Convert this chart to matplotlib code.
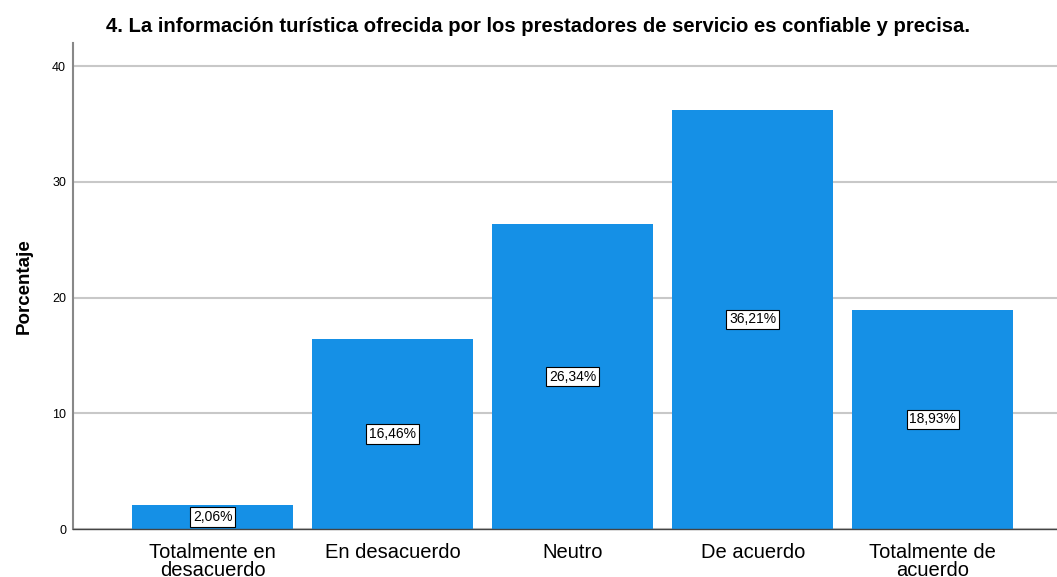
import matplotlib.pyplot as plt

plt.rcParams['font.family'] = ['Liberation Sans', 'DejaVu Sans']

categorias = ["Totalmente en\ndesacuerdo", "En desacuerdo", "Neutro",
              "De acuerdo", "Totalmente de\nacuerdo"]
porcentajes = [2.06, 16.46, 26.34, 36.21, 18.93]
marcas_y = [0, 10, 20, 30, 40]

fig = plt.figure(figsize=(10.57, 5.77), dpi=100)
ax = fig.add_axes([73 / 1057, 48 / 577, 1 - 73 / 1057, 486 / 577])

x = range(len(categorias))
ax.bar(x, porcentajes, width=0.894, color='#1590e6', zorder=2)

for xi, v in zip(x, porcentajes):
    ax.text(xi, v / 2, f"{v:.2f}%".replace('.', ','), ha='center', va='center',
            fontsize=10, zorder=3,
            bbox=dict(boxstyle='square,pad=0.2', fc='white', ec='black', lw=0.8))

ax.set_xlim(-0.775, 4.69)
ax.set_ylim(0, 42)
ax.set_yticks(marcas_y)
ax.set_yticklabels([str(m) for m in marcas_y], fontsize=9)
ax.set_xticks(list(x))
ax.set_xticklabels(categorias, fontsize=14.5, linespacing=0.95)
ax.tick_params(axis='both', length=0)
ax.tick_params(axis='y', pad=5)
ax.tick_params(axis='x', pad=10)

ax.grid(axis='y', color='#c8c8c8', lw=1.5, zorder=0)
for s in ['top', 'right']:
    ax.spines[s].set_visible(False)
ax.spines['left'].set_color('#888888')
ax.spines['left'].set_linewidth(1.5)
ax.spines['bottom'].set_color('#444444')
ax.spines['bottom'].set_linewidth(1)

ax.set_ylabel("Porcentaje", fontsize=13.5, fontweight='bold', labelpad=14)
fig.text(538 / 1057, 1 - 27 / 577,
         "4. La información turística ofrecida por los prestadores de servicio es confiable y precisa.",
         ha='center', va='center', fontsize=14.6, fontweight='bold')

fig.savefig("out.png", dpi=100)
